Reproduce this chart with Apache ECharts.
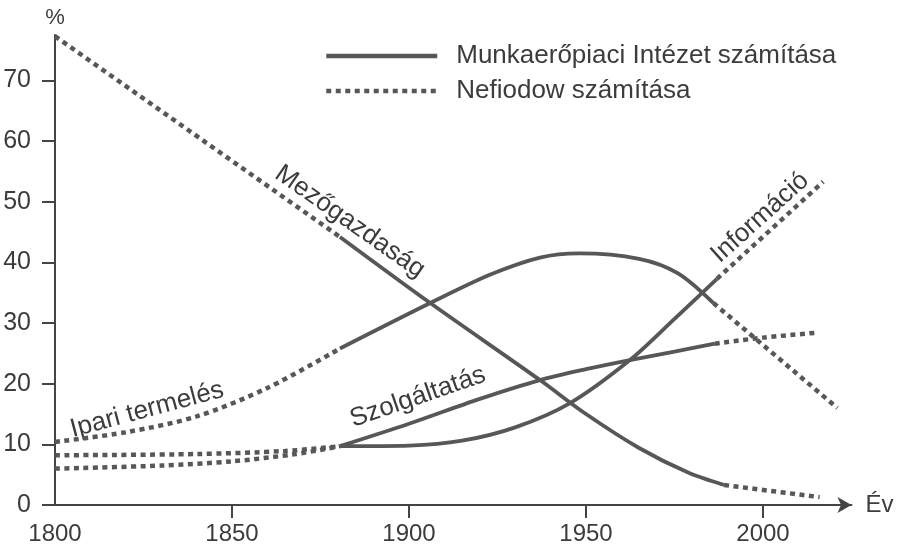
<!DOCTYPE html>
<html>
<head>
<meta charset="utf-8">
<script src="https://cdn.jsdelivr.net/npm/echarts@6/dist/echarts.min.js"></script>
<style>
  html, body { margin: 0; padding: 0; background: #fff; }
  #chart { width: 898px; height: 552px; }
</style>
</head>
<body>
<div id="chart"></div>
<script>
// évek / százalékok, [év, %]
const xTicks = [1800, 1850, 1900, 1950, 2000]
const yTicks = [0, 10, 20, 30, 40, 50, 60, 70]

// Mezőgazdaság
const agriEarly = [[1800, 77.3], [1880.5, 44.2]]
const agriMain = [[1880.5, 44.2], [1906, 33.3], [1937, 20.6], [1950, 15], [1965, 9.4], [1979, 5.3], [1989, 3.3]]
const agriLate = [[1989, 3.3], [2016, 1.3]]

// Ipari termelés
const industryEarly = [[1800, 10.4], [1820, 12], [1840, 14.6], [1860, 19.3], [1880.5, 25.8]]
const industryMain = [[1880.5, 25.8], [1906, 33.3], [1923, 38], [1937, 40.8], [1948, 41.5], [1965, 40.6], [1976, 38.2], [1986, 33.3]]
const industryLate = [[1986, 33.3], [2021, 16]]

// Szolgáltatás
const serviceEarly = [[1800, 8.2], [1840, 8.4], [1865, 8.9], [1880.5, 9.7]]
const serviceMain = [[1880.5, 9.7], [1900, 13.4], [1920, 17.5], [1937, 20.6], [1950, 22.4], [1962.4, 23.9], [1975, 25.3], [1986.4, 26.6]]
const serviceLate = [[1986.4, 26.6], [2000, 27.6], [2015, 28.4]]

// Információ
const infoEarly = [[1800, 6.0], [1830, 6.5], [1850, 7.2], [1868, 8.4], [1880.5, 9.7]]
const infoMain = [[1880.5, 9.7], [1900, 9.8], [1915, 10.6], [1930, 12.8], [1945.5, 16.8], [1962.4, 23.9], [1975, 30.7], [1987, 37.3]]
const infoLate = [[1987, 37.3], [2017, 53.3]]

const legendNames = ['Munkaerőpiaci Intézet számítása', 'Nefiodow számítása']

const lineColor = '#575757'
const textColor = '#3c3c3c'
const font = 'Liberation Sans'

const solid = { color: lineColor, width: 3.8, type: 'solid' }
const dotted = { color: lineColor, width: 4.5, type: [5, 4.5], cap: 'butt' }

function part(data, style, smooth) {
  return {
    type: 'line',
    data: data,
    symbol: 'none',
    smooth: smooth ? 0.3 : false,
    color: lineColor,
    lineStyle: style,
    silent: true,
    z: 3
  }
}

const chart = echarts.init(document.getElementById('chart'))

const option = {
  animation: false,
  backgroundColor: '#fff',
  textStyle: { fontFamily: font, color: textColor },
  grid: { left: 55, right: 46.5, top: 35, bottom: 47 },
  legend: {
    orient: 'vertical',
    left: 319,
    top: 36,
    itemWidth: 111,
    itemHeight: 30,
    itemGap: 5,
    selectedMode: false,
    itemStyle: { opacity: 0 },
    textStyle: { fontSize: 26, color: textColor, padding: [0, 0, 0, 14], lineHeight: 30 },
    data: [
      { name: legendNames[0], itemStyle: { opacity: 0 }, lineStyle: { color: lineColor, width: 4.5, type: 'solid' } },
      { name: legendNames[1], itemStyle: { opacity: 0 }, lineStyle: { color: lineColor, width: 4.5, type: [5, 4.5], cap: 'butt' } }
    ]
  },
  xAxis: {
    type: 'value',
    min: 1800,
    max: 2025,
    name: 'Év',
    nameLocation: 'end',
    nameGap: 14,
    nameTextStyle: { fontSize: 24, color: textColor, padding: [12, 0, 0, 0] },
    axisLine: {
      lineStyle: { color: '#444', width: 2 },
      symbol: ['none', 'arrow'],
      symbolSize: [12, 14]
    },
    axisTick: { customValues: xTicks.slice(1), length: 13, lineStyle: { color: '#444', width: 2 } },
    axisLabel: { customValues: xTicks, fontSize: 24, color: textColor, margin: 17, formatter: v => String(v) },
    splitLine: { show: false }
  },
  yAxis: {
    type: 'value',
    min: 0,
    max: 77.5,
    name: '%',
    nameLocation: 'end',
    nameGap: 6,
    nameTextStyle: { fontSize: 22, color: textColor },
    axisLine: { show: true, lineStyle: { color: '#444', width: 2 } },
    axisTick: { show: true, customValues: yTicks, length: 13, lineStyle: { color: '#444', width: 2 } },
    axisLabel: { customValues: yTicks, fontSize: 25, color: textColor, margin: 24 },
    splitLine: { show: false }
  },
  series: [
    { type: 'line', name: legendNames[0], data: [], symbol: 'none', color: lineColor, lineStyle: solid },
    { type: 'line', name: legendNames[1], data: [], symbol: 'none', color: lineColor, lineStyle: dotted },
    part(agriEarly, dotted, false),
    part(agriMain, solid, true),
    part(agriLate, dotted, false),
    part(industryEarly, dotted, true),
    part(industryMain, solid, true),
    part(industryLate, dotted, false),
    part(serviceEarly, dotted, true),
    part(serviceMain, solid, true),
    part(serviceLate, dotted, true),
    part(infoEarly, dotted, true),
    part(infoMain, solid, true),
    part(infoLate, dotted, false)
  ]
}

chart.setOption(option)

// görbék feliratai, adatkoordinátában
const curveLabels = [
  { text: 'Mezőgazdaság', at: [1883.3, 46.7], angle: -35 },
  { text: 'Ipari termelés', at: [1826, 15.7], angle: 15 },
  { text: 'Szolgáltatás', at: [1902.5, 17.8], angle: 19 },
  { text: 'Információ', at: [1999.2, 47.4], angle: 42 }
]

chart.setOption({
  graphic: curveLabels.map(l => {
    const p = chart.convertToPixel({ gridIndex: 0 }, l.at)
    return {
      type: 'text',
      x: p[0],
      y: p[1],
      rotation: l.angle * Math.PI / 180,
      silent: true,
      style: {
        text: l.text,
        fontFamily: font,
        fontSize: 26,
        fill: textColor,
        align: 'center',
        verticalAlign: 'middle'
      }
    }
  })
})
</script>
</body>
</html>
